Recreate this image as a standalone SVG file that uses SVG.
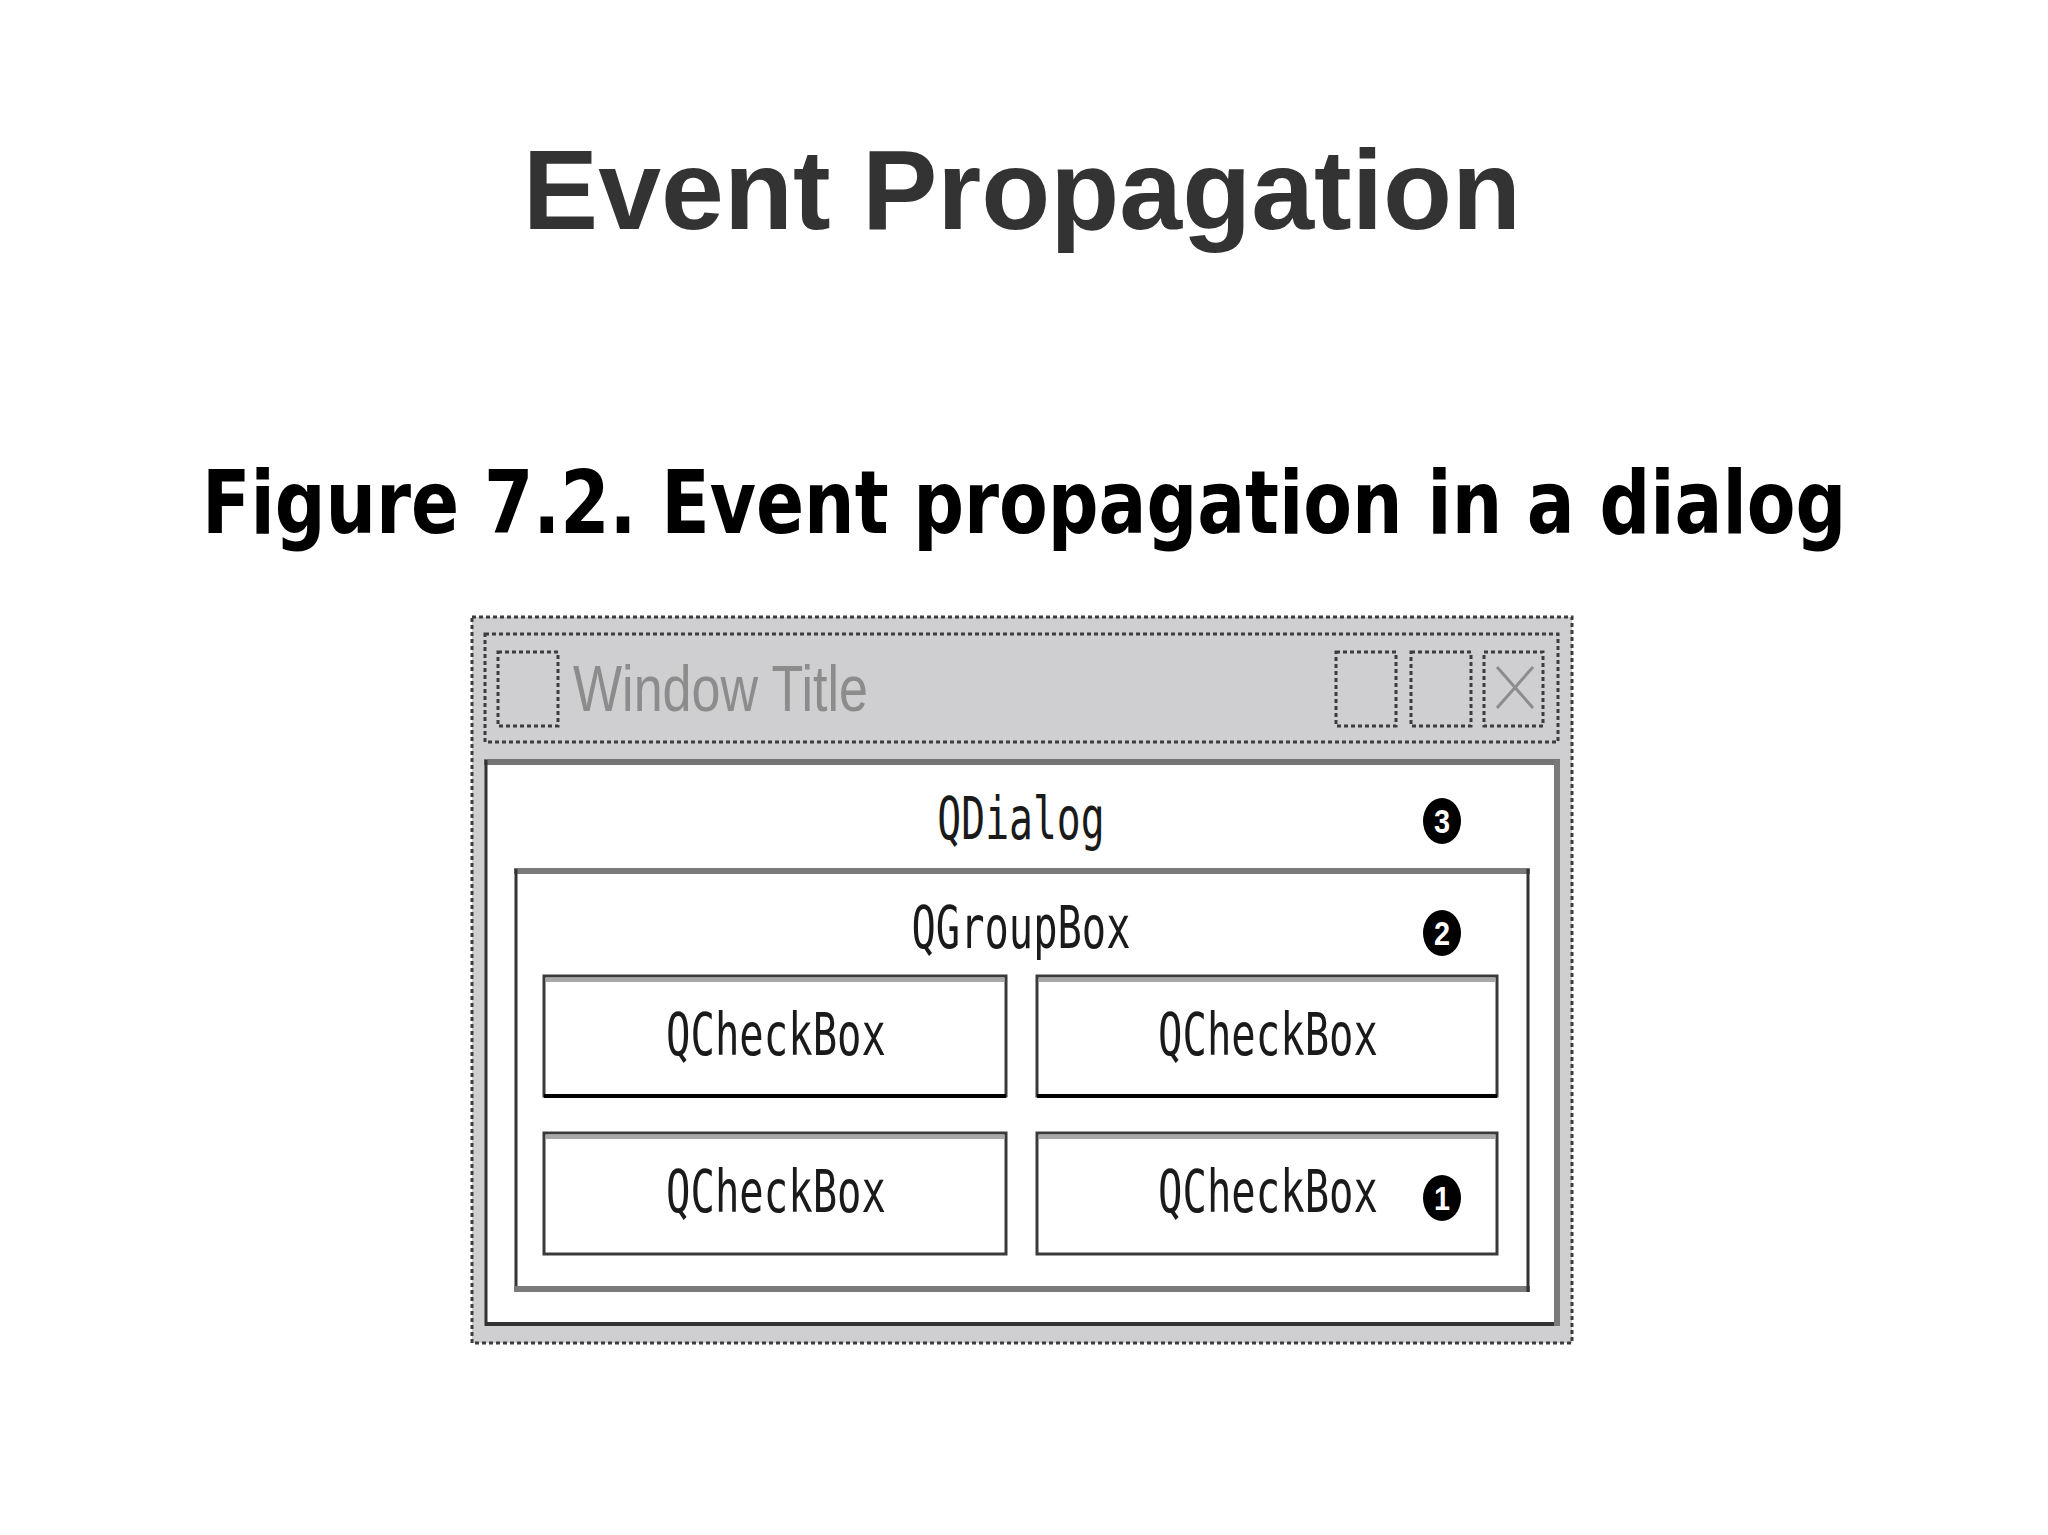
<svg xmlns="http://www.w3.org/2000/svg" width="2048" height="1535" viewBox="0 0 2048 1535">
<style>
.dash{fill:none;stroke:#3c3c3c;stroke-width:3;stroke-dasharray:4 3}
.mono{font-family:"DejaVu Sans Mono","Liberation Mono",monospace;font-size:58px;fill:#1a1a1a;text-anchor:middle}
.cb{fill:#ffffff;stroke:#3a3a3a;stroke-width:3}
.cbhl{stroke:#a8a8a8;stroke-width:4}
.num{font-family:"Liberation Sans",Arial,sans-serif;font-weight:bold;font-size:34px;fill:#ffffff;text-anchor:middle}
</style>
<rect x="0" y="0" width="2048" height="1535" fill="#ffffff"/>
<text id="title" x="1022" y="229" font-family="Liberation Sans, Arial, sans-serif" font-weight="bold" font-size="113" fill="#333333" text-anchor="middle">Event Propagation</text>
<text id="caption" transform="translate(202,533) scale(0.81,1)" x="0" y="0" font-family="DejaVu Sans, sans-serif" font-weight="bold" font-size="88" fill="#000000" textLength="2030" lengthAdjust="spacingAndGlyphs">Figure 7.2. Event propagation in a dialog</text>

<g id="window">
<rect x="472" y="617" width="1100" height="726" fill="#cfcfd2"/>
<rect class="dash" x="472" y="617" width="1100" height="726"/>
<rect class="dash" x="485" y="634" width="1073" height="108"/>
<rect class="dash" x="498" y="652" width="60" height="74"/>
<text transform="translate(573,711) scale(0.806,1)" x="0" y="0" font-family="Liberation Sans, Arial, sans-serif" font-size="64" fill="#8c8c8c" textLength="366" lengthAdjust="spacingAndGlyphs">Window Title</text>
<rect class="dash" x="1336" y="652" width="60" height="74"/>
<rect class="dash" x="1411" y="652" width="60" height="74"/>
<rect class="dash" x="1484" y="652" width="59" height="74"/>
<path d="M1497 667 L1533 708 M1533 667 L1497 708" stroke="#8c8c8c" stroke-width="3" fill="none"/>
</g>

<g id="qdialog">
<rect x="486" y="762" width="1071" height="562" fill="#ffffff"/>
<line x1="484" y1="762" x2="1560" y2="762" stroke="#747474" stroke-width="6"/>
<line x1="486" y1="760" x2="486" y2="1326" stroke="#333333" stroke-width="3"/>
<line x1="486" y1="1324" x2="1560" y2="1324" stroke="#333333" stroke-width="4"/>
<line x1="1557" y1="760" x2="1557" y2="1326" stroke="#7a7a7a" stroke-width="6"/>
<text class="mono" transform="translate(1021,839) scale(0.685,1)" x="0" y="0">QDialog</text>
<ellipse cx="1442" cy="821" rx="19" ry="23" fill="#000000"/>
<text class="num" transform="translate(1442,833) scale(0.85,1)" x="0" y="0">3</text>
</g>

<g id="qgroupbox">
<line x1="514" y1="871" x2="1530" y2="871" stroke="#7a7a7a" stroke-width="6"/>
<line x1="516" y1="869" x2="516" y2="1292" stroke="#333333" stroke-width="3"/>
<line x1="514" y1="1289" x2="1530" y2="1289" stroke="#7a7a7a" stroke-width="6"/>
<line x1="1528" y1="869" x2="1528" y2="1292" stroke="#333333" stroke-width="3"/>
<text class="mono" transform="translate(1021,948) scale(0.697,1)" x="0" y="0">QGroupBox</text>
<ellipse cx="1442" cy="933" rx="19" ry="23" fill="#000000"/>
<text class="num" transform="translate(1442,945) scale(0.85,1)" x="0" y="0">2</text>
</g>

<g id="checkbox1">
<rect class="cb" x="544" y="976" width="462" height="120"/>
<line class="cbhl" x1="546" y1="980" x2="1004" y2="980"/>
<line x1="544" y1="1096" x2="1006" y2="1096" stroke="#000000" stroke-width="4"/>
<text class="mono" transform="translate(776,1055) scale(0.7,1)" x="0" y="0">QCheckBox</text>
</g>
<g id="checkbox2">
<rect class="cb" x="1037" y="976" width="460" height="120"/>
<line class="cbhl" x1="1039" y1="980" x2="1495" y2="980"/>
<line x1="1037" y1="1096" x2="1497" y2="1096" stroke="#000000" stroke-width="4"/>
<text class="mono" transform="translate(1268,1055) scale(0.7,1)" x="0" y="0">QCheckBox</text>
</g>
<g id="checkbox3">
<rect class="cb" x="544" y="1133" width="462" height="121"/>
<line class="cbhl" x1="546" y1="1137" x2="1004" y2="1137"/>
<text class="mono" transform="translate(776,1212) scale(0.7,1)" x="0" y="0">QCheckBox</text>
</g>
<g id="checkbox4">
<rect class="cb" x="1037" y="1133" width="460" height="121"/>
<line class="cbhl" x1="1039" y1="1137" x2="1495" y2="1137"/>
<text class="mono" transform="translate(1268,1212) scale(0.7,1)" x="0" y="0">QCheckBox</text>
<ellipse cx="1442" cy="1198" rx="19" ry="23" fill="#000000"/>
<text class="num" transform="translate(1442,1210) scale(0.85,1)" x="0" y="0">1</text>
</g>
<g id="connectors"/>
</svg>
